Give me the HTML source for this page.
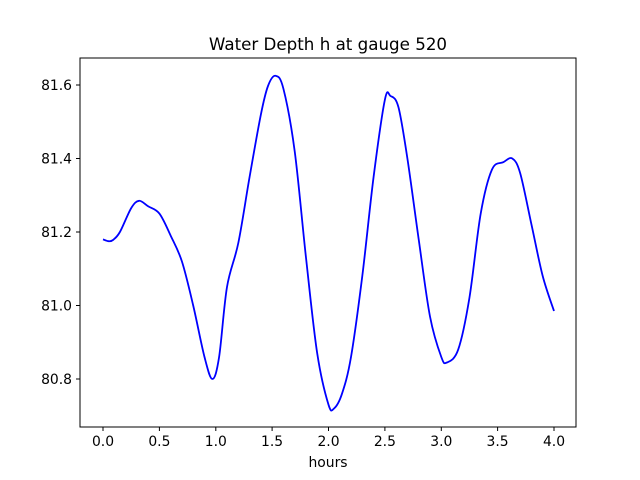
<!DOCTYPE html>
<html><head><meta charset="utf-8"><style>body{margin:0;background:#fff}svg{display:block}text{font-family:"DejaVu Sans","Liberation Sans",sans-serif;fill:#000}</style></head>
<body>
<svg width="640" height="480" viewBox="0 0 640 480" xmlns="http://www.w3.org/2000/svg">
<rect width="640" height="480" fill="#fff"/>
<path id="curve" fill="none" stroke="#0000ff" stroke-width="1.8" stroke-linejoin="round" d=""/>
<rect x="80" y="58" width="496" height="369" fill="none" stroke="#000" stroke-width="1"/>
<g stroke="#000" stroke-width="1">
<line x1="103" y1="427" x2="103" y2="431"/><line x1="159.4" y1="427" x2="159.4" y2="431"/><line x1="215.8" y1="427" x2="215.8" y2="431"/><line x1="272.1" y1="427" x2="272.1" y2="431"/><line x1="328.5" y1="427" x2="328.5" y2="431"/><line x1="384.9" y1="427" x2="384.9" y2="431"/><line x1="441.3" y1="427" x2="441.3" y2="431"/><line x1="497.6" y1="427" x2="497.6" y2="431"/><line x1="554" y1="427" x2="554" y2="431"/>
<line x1="76" y1="379" x2="80" y2="379"/><line x1="76" y1="305.5" x2="80" y2="305.5"/><line x1="76" y1="232" x2="80" y2="232"/><line x1="76" y1="158.5" x2="80" y2="158.5"/><line x1="76" y1="85" x2="80" y2="85"/>
</g>
<g font-size="13.9" text-anchor="middle">
<text x="103" y="446">0.0</text><text x="159.4" y="446">0.5</text><text x="215.8" y="446">1.0</text><text x="272.1" y="446">1.5</text><text x="328.5" y="446">2.0</text><text x="384.9" y="446">2.5</text><text x="441.3" y="446">3.0</text><text x="497.6" y="446">3.5</text><text x="554" y="446">4.0</text>
</g>
<g font-size="13.9" text-anchor="end">
<text x="72" y="384">80.8</text><text x="72" y="310.5">81.0</text><text x="72" y="237">81.2</text><text x="72" y="163.5">81.4</text><text x="72" y="90">81.6</text>
</g>
<text x="328" y="467" font-size="13.9" text-anchor="middle">hours</text>
<text x="328" y="50" font-size="16.7" text-anchor="middle">Water Depth h at gauge 520</text>
</svg>
<script>
var p=[[103,239.4],[108.6,241.2],[113,240],[119.9,232],[131.2,208.1],[139.1,200.8],[148.1,206.3],[159.4,213.6],[170.7,235.7],[181.9,261.4],[193.2,305.5],[204.5,357],[212.4,379],[219.1,357],[227,287],[238.3,243],[249.6,176.9],[260.9,114.4],[268,86],[275.5,75.8],[283.4,88.7],[294.7,151.2],[306,257.7],[317.2,353.3],[328.5,404.7],[334.1,408.4],[342,393.7],[351,357],[362.3,276],[373.6,176.9],[384.9,99.7],[390.5,96],[398.4,107],[407.4,158.5],[418.7,239.4],[430,316.5],[441.3,357],[446.9,362.5],[458.2,349.6],[469.4,298],[480.7,213.6],[492,169.5],[503.3,162.2],[512.3,158.5],[520.2,173.2],[531.5,224.7],[542.7,276],[554,311]];
var d="M"+p[0][0]+","+p[0][1];
for(var i=0;i<p.length-1;i++){var a=p[i>0?i-1:0],b=p[i],c=p[i+1],e=p[i+2<p.length?i+2:i+1];
d+=" C"+(b[0]+(c[0]-a[0])/6).toFixed(2)+","+(b[1]+(c[1]-a[1])/6).toFixed(2)+" "+(c[0]-(e[0]-b[0])/6).toFixed(2)+","+(c[1]-(e[1]-b[1])/6).toFixed(2)+" "+c[0]+","+c[1];}
document.getElementById("curve").setAttribute("d",d);
</script>
</body></html>
